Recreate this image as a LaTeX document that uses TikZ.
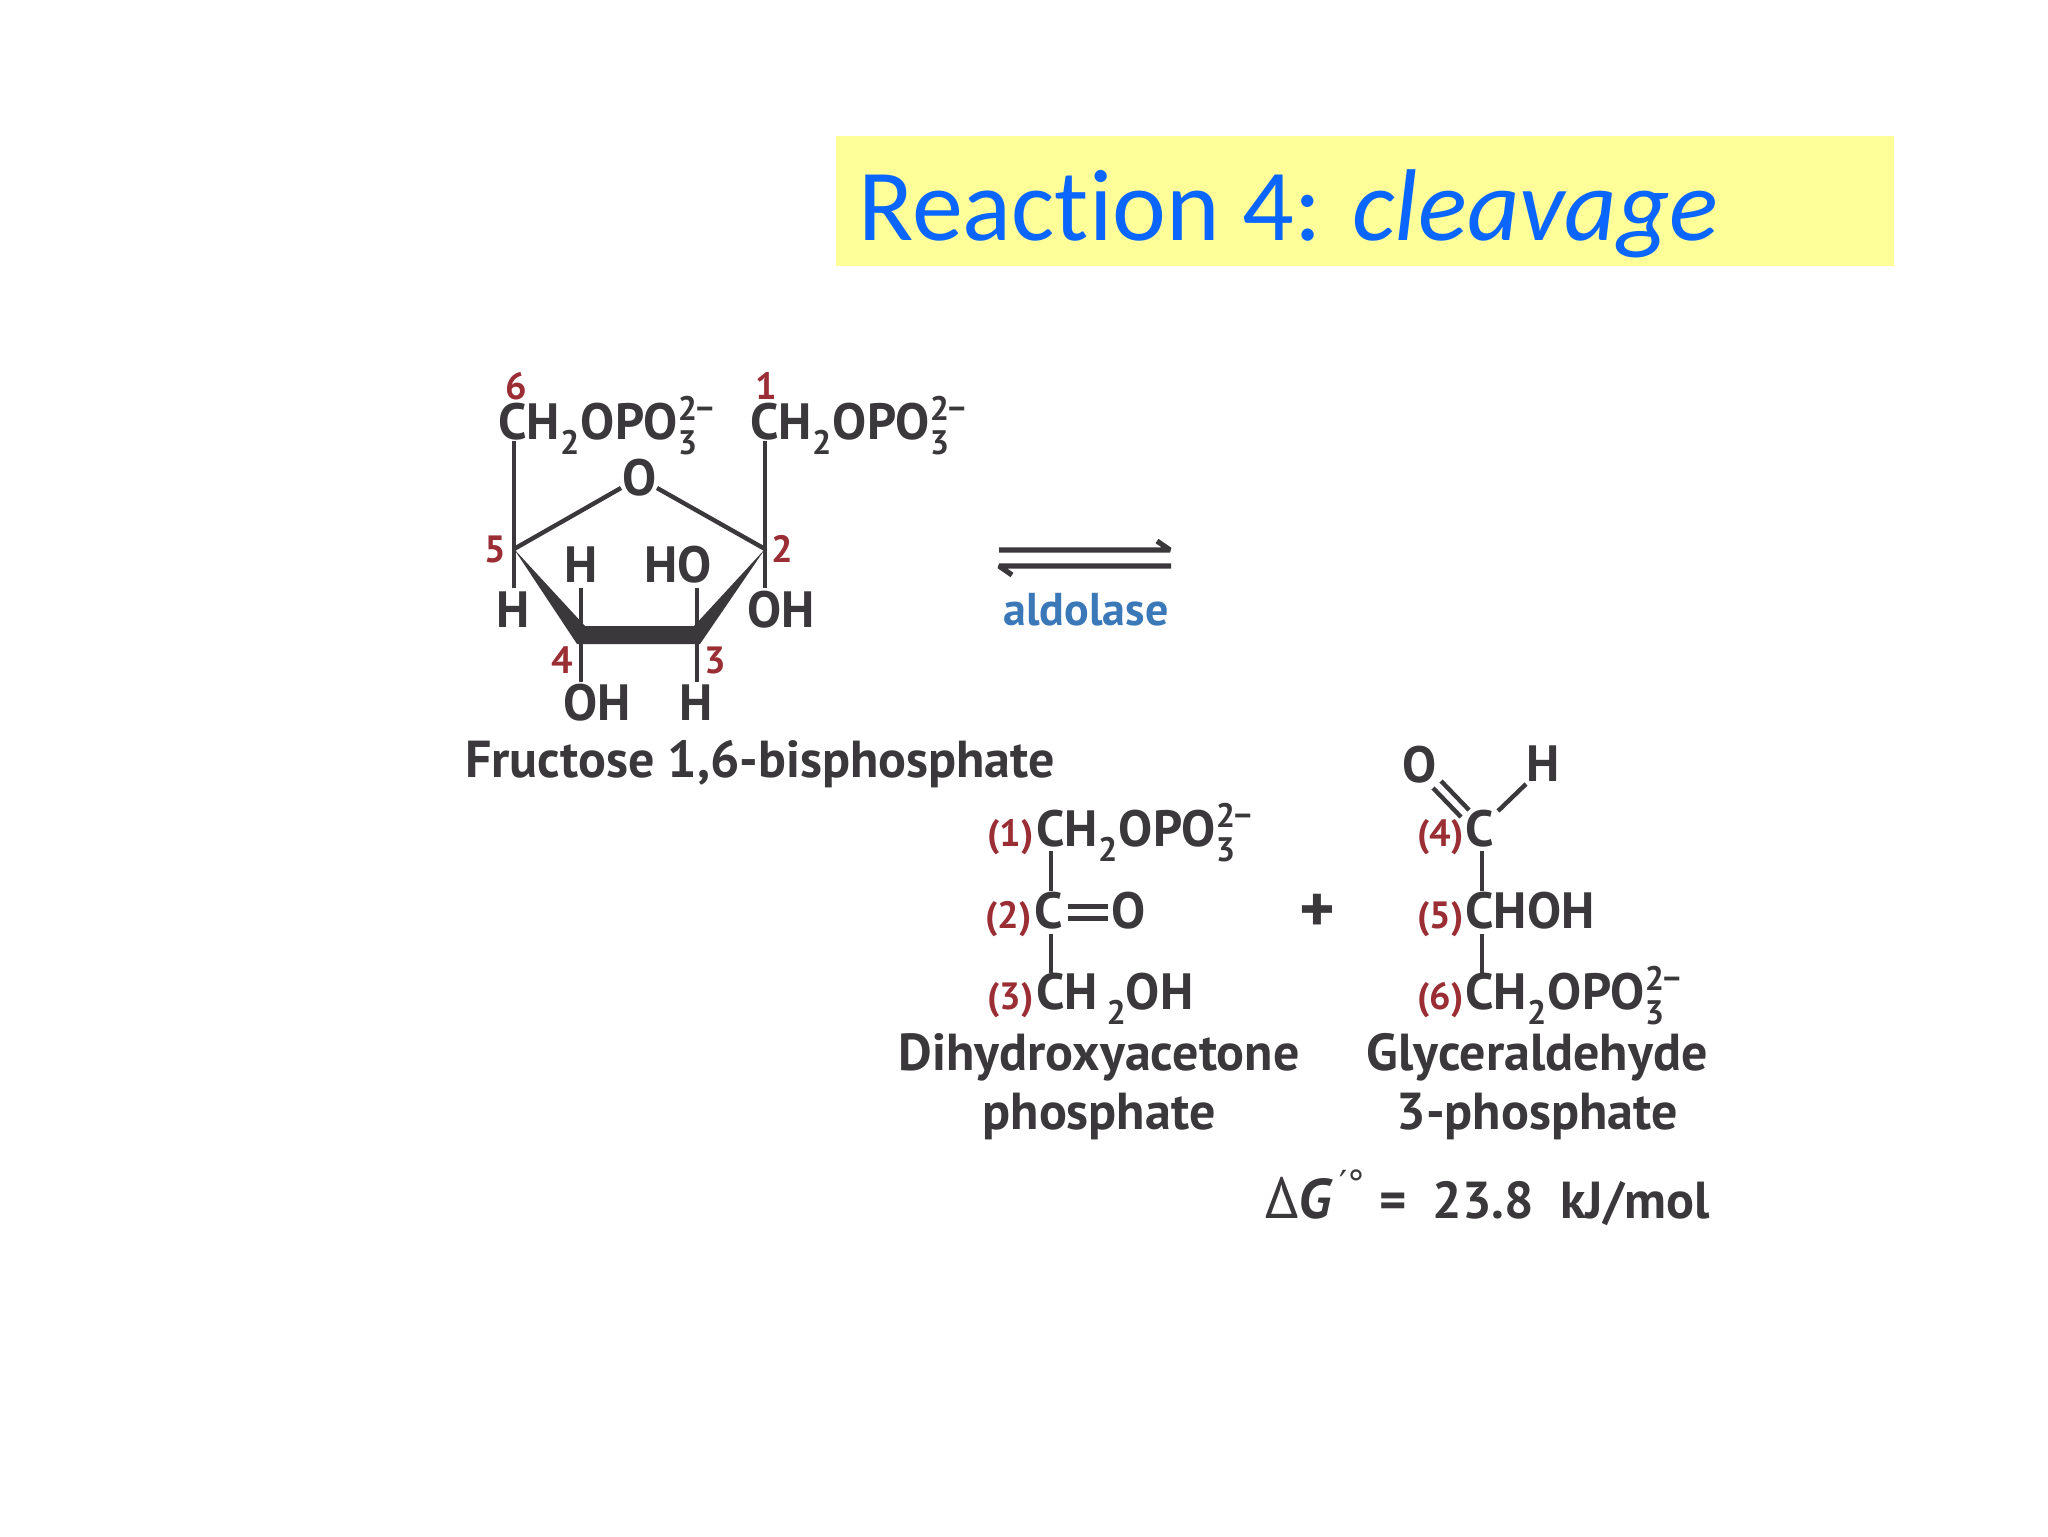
\documentclass[tikz,border=0pt]{standalone}
\usepackage{fontspec}
\setmainfont{PT Sans}
\newfontfamily\titlefont[Ligatures=NoCommon]{Carlito}
\newfontfamily\primefont{DejaVu Sans}
\definecolor{ink}{HTML}{3A383A}
\definecolor{numred}{HTML}{9A2E34}
\definecolor{enz}{HTML}{3B78B8}
\definecolor{titleblue}{HTML}{0A66FF}
\definecolor{titlebg}{HTML}{FFFF99}
\newcommand{\subtwo}{\raisebox{-0.3em}{\fontsize{17}{17}\selectfont 2}}
\newcommand{\phosph}{CH\subtwo\kern0.03em OPO\rlap{\raisebox{-0.3em}{\fontsize{17}{17}\selectfont 3}}\raisebox{0.36em}{\fontsize{17}{17}\selectfont 2\kern-0.04em−}}
\tikzset{
  x=0.5pt,y=-0.5pt,
  atom/.style={font=\fontsize{25.5}{25.5}\selectfont\bfseries,text=ink,inner sep=0pt,anchor=base west},
  catom/.style={font=\fontsize{25.5}{25.5}\selectfont\bfseries,text=ink,inner sep=0pt,anchor=center},
  numlab/.style={font=\fontsize{19}{19}\selectfont\bfseries,text=numred,inner sep=0pt,anchor=center},
  parlab/.style={font=\fontsize{19}{19}\selectfont\bfseries,text=numred,inner sep=0pt,anchor=base west},
  caption/.style={font=\fontsize{26}{26}\selectfont\bfseries,text=ink,inner sep=0pt,anchor=base},
  bond/.style={draw=ink,line width=2.2pt},
  dblbond/.style={draw=ink,line width=2.5pt},
}
\begin{document}
\begin{tikzpicture}
\useasboundingbox (0,0) rectangle (2048,1536);
\fill[titlebg] (836,136) rectangle (1894,266);
\node[font=\fontsize{51}{51}\titlefont,text=titleblue,inner sep=0pt,anchor=base west] (title) at (858,240) {Reaction 4: \textit{cleavage}};
% substrate
\node[atom] (ch6) at (498,439) {\phosph};
\node[atom] (ch1) at (750,439) {\phosph};
\node[numlab] (n6) at (516,386) {6};
\node[numlab] (n1) at (766,386) {1};
\node[catom] (ringo) at (640,478) {O};
\node[catom] (h4up) at (581,565) {H};
\node[catom] (ho3up) at (678,565) {HO};
\node[catom] (h5) at (513,610) {H};
\node[catom] (oh2) at (781,610) {OH};
\node[catom] (oh4) at (597,703) {OH};
\node[catom] (h3) at (696,703) {H};
\node[numlab] (n5) at (495,549) {5};
\node[numlab] (n2) at (782,549) {2};
\node[numlab] (n4) at (562,660) {4};
\node[numlab] (n3) at (715,660) {3};
\coordinate (c5) at (514,549);
\coordinate (c2) at (765,549);
\coordinate (c6top) at (514,441);
\coordinate (c1top) at (765,441);
\coordinate (c5bot) at (514,588);
\coordinate (c2bot) at (765,588);
\coordinate (oL) at (621,488);
\coordinate (oR) at (657,488);
\coordinate (c4up) at (581,588);
\coordinate (c3up) at (697,588);
\coordinate (c4dn) at (581,682);
\coordinate (c3dn) at (697,682);
\draw[bond] (c6top) -- (c5bot);
\draw[bond] (c1top) -- (c2bot);
\draw[bond] (oL) -- (c5);
\draw[bond] (oR) -- (c2);
\draw[bond] (c4up) -- (c4dn);
\draw[bond] (c3up) -- (c3dn);
\fill[ink] (c5) -- (585,626) -- (694,626) -- (c2) -- (700,644) -- (577,644) -- cycle;
% arrows
\coordinate (ar1a) at (999,550);
\coordinate (ar1b) at (1170,550);
\coordinate (ar1c) at (1157,541);
\coordinate (ar2a) at (999,566);
\coordinate (ar2b) at (1171,566);
\coordinate (ar2c) at (1012,575);
\draw[draw=ink,line width=2.6pt,line join=bevel] (ar1a) -- (ar1b) -- (ar1c);
\draw[draw=ink,line width=2.6pt,line join=bevel] (ar2b) -- (ar2a) -- (ar2c);
\node[font=\fontsize{23}{23}\selectfont\bfseries,text=enz,inner sep=0pt,anchor=base] (ald) at (1086,625) {aldolase};
\node[caption] (fru) at (760,777) {Fructose 1,6-bisphosphate};
% DHAP
\node[parlab] (p1) at (987,846) {(1)};
\node[atom] (d1) at (1036,846) {\phosph};
\node[parlab] (p2) at (985,928) {(2)};
\node[atom] (d2) at (1034,928) {C};
\node[catom,anchor=base] (d2o) at (1129,928) {O};
\node[parlab] (p3) at (987,1009) {(3)};
\node[atom] (d3) at (1036,1009) {CH\,\subtwo OH};
\coordinate (dv1) at (1051,851);
\coordinate (dv2) at (1051,891);
\coordinate (dv3) at (1051,934);
\coordinate (dv4) at (1051,973);
\draw[bond] (dv1) -- (dv2);
\draw[bond] (dv3) -- (dv4);
\coordinate (db1) at (1068,906);
\coordinate (db2) at (1108,906);
\coordinate (db3) at (1068,918);
\coordinate (db4) at (1108,918);
\draw[dblbond] (db1) -- (db2);
\draw[dblbond] (db3) -- (db4);
\node[font=\fontsize{34}{34}\selectfont\bfseries,text=ink,inner sep=0pt] (plus) at (1317,913) {+};
% GAP
\node[catom] (go) at (1420,765) {O};
\node[catom] (gh) at (1543,764) {H};
\node[parlab] (p4) at (1417,846) {(4)};
\node[atom] (g4) at (1465,846) {C};
\node[parlab] (p5) at (1417,928) {(5)};
\node[atom] (g5) at (1465,928) {CHOH};
\node[parlab] (p6) at (1417,1009) {(6)};
\node[atom] (g6) at (1465,1009) {\phosph};
\coordinate (gv1) at (1482,851);
\coordinate (gv2) at (1482,891);
\coordinate (gv3) at (1482,934);
\coordinate (gv4) at (1482,973);
\draw[bond] (gv1) -- (gv2);
\draw[bond] (gv3) -- (gv4);
\coordinate (gd1) at (1441,781);
\coordinate (gd2) at (1469,810);
\coordinate (gd3) at (1433,788);
\coordinate (gd4) at (1461,817);
\draw[bond] (gd1) -- (gd2);
\draw[bond] (gd3) -- (gd4);
\coordinate (gs1) at (1498,811);
\coordinate (gs2) at (1526,784);
\draw[bond] (gs1) -- (gs2);
\node[caption] (dh) at (1099,1070) {Dihydroxyacetone};
\node[caption] (dh2) at (1099,1129) {phosphate};
\node[caption] (gl) at (1537,1070) {Glyceraldehyde};
\node[caption] (gl2) at (1537,1129) {3-phosphate};
\node[font=\fontsize{26}{26}\selectfont\bfseries,text=ink,inner sep=0pt,anchor=base east] (dg) at (1710,1218) {{\fontsize{29}{29}\selectfont\mdseries Δ}{\fontsize{28}{28}\selectfont\textit{G}}\kern0.12em\raisebox{0.42em}{\fontsize{18}{18}\primefont\mdseries ′\kern0.02em°}\ =\ \ 23.8\ \ kJ/mol};
\end{tikzpicture}
\end{document}
